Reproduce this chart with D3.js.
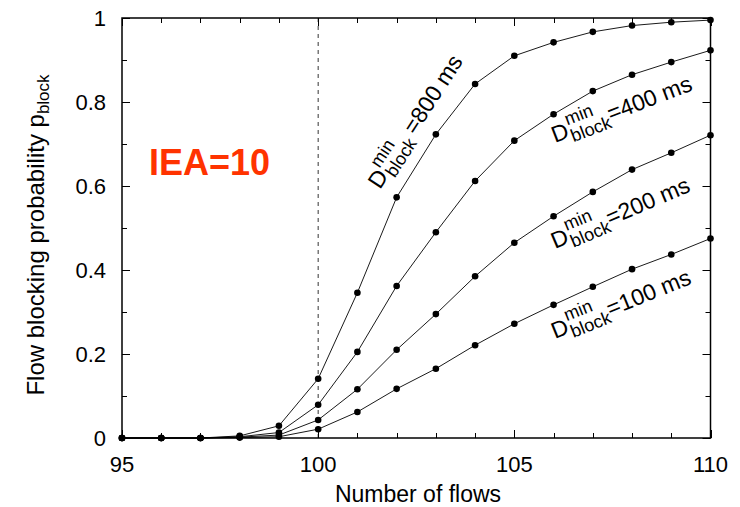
<!DOCTYPE html>
<html><head><meta charset="utf-8">
<script src="https://cdn.jsdelivr.net/npm/d3@7"></script>
<style>
html,body{margin:0;padding:0;background:#fff;}
svg{display:block;}
text{font-family:"Liberation Sans",Arial,Helvetica,sans-serif;fill:#000;}
</style></head>
<body>
<svg id="chart" width="740" height="507"></svg>
<script>
// ---- data ----
const flows = [95,96,97,98,99,100,101,102,103,104,105,106,107,108,109,110];
const block800 = [0,0,0,0.005,0.029,0.141,0.346,0.573,0.723,0.843,0.91,0.942,0.967,0.982,0.99,0.995];
const block400 = [0,0,0,0.003,0.013,0.079,0.205,0.362,0.49,0.612,0.708,0.771,0.826,0.865,0.895,0.923];
const block200 = [0,0,0,0.002,0.007,0.043,0.116,0.21,0.295,0.385,0.465,0.528,0.586,0.639,0.679,0.721];
const block100 = [0,0,0,0.001,0.003,0.021,0.062,0.117,0.165,0.221,0.272,0.317,0.36,0.402,0.437,0.475];
const seriesNames = ["800","400","200","100"];
const xTickLabels = [95,100,105,110];
const yTickLabels = [0,0.2,0.4,0.6,0.8,1];
const xMinorTicks = flows;
const yMinorTicks = [0,0.1,0.2,0.3,0.4,0.5,0.6,0.7,0.8,0.9,1];
const annotation = "IEA=10";
const vLineX = 100;

// ---- layout ----
const L = 122, R = 710.5, T = 18, B = 438;
const svg = d3.select("#chart");
const x = d3.scaleLinear().domain([95,110]).range([L,R]);
const y = d3.scaleLinear().domain([0,1]).range([B,T]);

// ticks (inward, all four sides)
const axG = svg.append("g").attr("stroke","#000").attr("stroke-width",1);
function tickLen(isMajor){return isMajor?8:5;}
xMinorTicks.forEach(v=>{
  const maj = xTickLabels.includes(v);
  const px = Math.round(x(v))+0.5;
  axG.append("line").attr("x1",px).attr("x2",px).attr("y1",B).attr("y2",B-tickLen(maj));
  axG.append("line").attr("x1",px).attr("x2",px).attr("y1",T).attr("y2",T+tickLen(maj));
});
yMinorTicks.forEach(v=>{
  const maj = yTickLabels.some(t=>Math.abs(t-v)<1e-9);
  const py = Math.round(y(v))+0.5;
  axG.append("line").attr("x1",L).attr("x2",L+tickLen(maj)).attr("y1",py).attr("y2",py);
  axG.append("line").attr("x1",R).attr("x2",R-tickLen(maj)).attr("y1",py).attr("y2",py);
});

// dashed vertical line
svg.append("line").attr("x1",x(vLineX)).attr("x2",x(vLineX)).attr("y1",y(0)).attr("y2",y(1))
  .attr("stroke","#000").attr("stroke-width",0.8).attr("stroke-dasharray","4,4");

// frame
svg.append("rect").attr("x",L).attr("y",T).attr("width",R-L).attr("height",B-T)
  .attr("fill","none").attr("stroke","#000").attr("stroke-width",1.5);

// tick labels
svg.append("g").selectAll("text").data(xTickLabels).join("text")
  .attr("x",d=>x(d)).attr("y",472).attr("text-anchor","middle")
  .attr("font-size",22).text(d=>d);
svg.append("g").selectAll("text").data(yTickLabels).join("text")
  .attr("x",106).attr("y",d=>y(d)+8).attr("text-anchor","end")
  .attr("font-size",22).text(d=>d);

// axis titles
svg.append("text").attr("x",418).attr("y",502).attr("text-anchor","middle")
  .attr("font-size",23).text("Number of flows");
const yt = svg.append("text").attr("transform","translate(44,235) rotate(-90)")
  .attr("text-anchor","middle").attr("font-size",24);
yt.append("tspan").text("Flow blocking probability p");
yt.append("tspan").attr("font-size",17).attr("dy",5).text("block");

// annotation
svg.append("text").attr("x",149).attr("y",175).attr("font-size",36).attr("font-weight","bold")
  .style("fill","#ff3300").text(annotation);

// series
const allSeries = [block800, block400, block200, block100];
const line = d3.line().x((d,i)=>x(flows[i])).y(d=>y(d));
allSeries.forEach(s=>{
  svg.append("path").attr("d",line(s)).attr("fill","none").attr("stroke","#000").attr("stroke-width",0.9);
});
allSeries.forEach(s=>{
  svg.append("g").selectAll("circle").data(s).join("circle")
    .attr("cx",(d,i)=>x(flows[i])).attr("cy",d=>y(d)).attr("r",3.3).attr("fill","#000");
});

// curve labels
const labelSpecs = [
  {name:"800", x:380, y:190, angle:-57, gap:true},
  {name:"400", x:555, y:143, angle:-21, gap:false},
  {name:"200", x:555, y:249, angle:-23, gap:false},
  {name:"100", x:555, y:339, angle:-22, gap:false}
];
labelSpecs.forEach(sp=>{
  const g = svg.append("g").attr("transform",`translate(${sp.x},${sp.y}) rotate(${sp.angle})`);
  const D = g.append("text").attr("x",0).attr("y",0).attr("font-size",23).text("D");
  const dw = D.node().getComputedTextLength();
  g.append("text").attr("x",dw+1).attr("y",-12).attr("font-size",18).text("min");
  const bl = g.append("text").attr("x",dw+1).attr("y",6).attr("font-size",18).text("block");
  const bw = bl.node().getComputedTextLength();
  g.append("text").attr("x",dw+1+bw+(sp.gap?5:0)).attr("y",0).attr("font-size",23).text("=" + sp.name + " ms");
});
</script>
</body></html>
